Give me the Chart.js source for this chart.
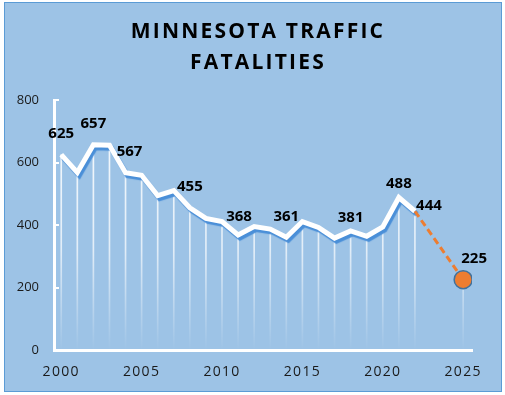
<!DOCTYPE html>
<html>
<head>
<meta charset="utf-8">
<script src="https://cdn.jsdelivr.net/npm/chart.js@4.4.1/dist/chart.umd.min.js"></script>
<style>
  html, body { margin: 0; padding: 0; background: #ffffff; }
  #wrap { width: 505px; height: 395px; position: relative; }
</style>
</head>
<body>
<div id="wrap"><canvas id="c" width="505" height="395"></canvas></div>
<script>
// ---- data ----
const titleLines = ['MINNESOTA TRAFFIC', 'FATALITIES'];
const years = [2000, 2001, 2002, 2003, 2004, 2005, 2006, 2007, 2008, 2009, 2010, 2011,
               2012, 2013, 2014, 2015, 2016, 2017, 2018, 2019, 2020, 2021, 2022];
const fatalities = [625, 568, 657, 655, 567, 559, 494, 510, 455, 421, 411, 368,
                    395, 387, 361, 411, 392, 358, 381, 364, 394, 488, 444];
const goalYears = [2022, 2025];
const goalValues = [444, 225];
const labelledYears = [2000, 2002, 2004, 2008, 2011, 2014, 2018, 2021, 2022, 2025];
const xTickLabels = [2000, 2005, 2010, 2015, 2020, 2025];
const yTickLabels = [0, 200, 400, 600, 800];

// ---- derived ----
const linePoints = years.map((y, i) => ({ x: y, y: fatalities[i] }));
const goalPoints = goalYears.map((y, i) => ({ x: y, y: goalValues[i] }));
const dropPoints = linePoints.concat([goalPoints[goalPoints.length - 1]]);
const allValues = {};
years.forEach((y, i) => { allValues[y] = fatalities[i]; });
goalYears.forEach((y, i) => { if (!(y in allValues)) allValues[y] = goalValues[i]; });

// label placement styling (pixel offsets relative to the point)
const labelOffsets = {
  2000: [0, -21], 2002: [0, -21], 2004: [4, -21], 2008: [0, -21], 2011: [1, -18],
  2014: [0, -20], 2018: [0, -13], 2021: [0, -14], 2022: [14, -6], 2025: [11, -21]
};

const bgPlugin = {
  id: 'bg',
  beforeDraw(chart) {
    const ctx = chart.ctx;
    ctx.save();
    ctx.fillStyle = '#ffffff';
    ctx.fillRect(0, 0, chart.width, chart.height);
    ctx.fillStyle = '#9DC3E6';
    ctx.fillRect(4, 2, 498, 390);
    ctx.strokeStyle = '#5B9BD5';
    ctx.lineWidth = 1;
    ctx.strokeRect(4.5, 2.5, 497, 389);
    ctx.restore();
  }
};

const titlePlugin = {
  id: 'customTitle',
  afterDraw(chart) {
    const ctx = chart.ctx;
    ctx.save();
    ctx.letterSpacing = '2.2px';
    ctx.font = 'bold 21px "Open Sans"';
    ctx.fillStyle = '#000000';
    ctx.textAlign = 'center';
    ctx.textBaseline = 'middle';
    ctx.fillText(titleLines[0], 258, 32);
    ctx.fillText(titleLines[1], 258, 63);
    ctx.restore();
  }
};

const shadowPlugin = {
  id: 'lineShadow',
  beforeDatasetDraw(chart, args) {
    if (args.index === 1) {
      const ctx = chart.ctx;
      ctx.save();
      ctx.shadowColor = '#4A8FD8';
      ctx.shadowOffsetX = 2;
      ctx.shadowOffsetY = 3;
      ctx.shadowBlur = 1;
    }
  },
  afterDatasetDraw(chart, args) {
    if (args.index === 1) chart.ctx.restore();
  }
};

const tickMarkPlugin = {
  id: 'innerTicks',
  afterDatasetsDraw(chart) {
    const ctx = chart.ctx;
    const ys = chart.scales.y;
    ctx.save();
    ctx.strokeStyle = '#ffffff';
    ctx.lineWidth = 2;
    yTickLabels.forEach(v => {
      if (v === 0) return;
      const py = Math.round(ys.getPixelForValue(v));
      ctx.beginPath();
      ctx.moveTo(ys.right, py);
      ctx.lineTo(ys.right + 5, py);
      ctx.stroke();
    });
    ctx.restore();
  }
};

const labelPlugin = {
  id: 'valueLabels',
  afterDatasetsDraw(chart) {
    const ctx = chart.ctx;
    const xs = chart.scales.x, ys = chart.scales.y;
    ctx.save();
    ctx.font = 'bold 15px "Open Sans"';
    ctx.fillStyle = '#000000';
    ctx.textAlign = 'center';
    ctx.textBaseline = 'middle';
    labelledYears.forEach(yr => {
      const v = allValues[yr];
      const off = labelOffsets[yr] || [0, -20];
      ctx.fillText(String(v), xs.getPixelForValue(yr) + off[0], ys.getPixelForValue(v) + off[1]);
    });
    ctx.restore();
  }
};

function spacedLabels(scale, spacing) {
  if (scale._spacedWrap) return;
  const orig = scale.drawLabels;
  scale.drawLabels = function (area) {
    const c = this.ctx;
    c.save();
    c.letterSpacing = spacing;
    orig.call(this, area);
    c.restore();
  };
  scale._spacedWrap = true;
}

const ctx = document.getElementById('c').getContext('2d');
new Chart(ctx, {
  type: 'line',
  data: {
    datasets: [
      {
        type: 'bar',
        data: dropPoints,
        barThickness: 1,
        backgroundColor: (c) => {
          const area = c.chart.chartArea;
          if (!area) return 'rgba(255,255,255,0.8)';
          const g = c.chart.ctx.createLinearGradient(0, area.top, 0, area.bottom);
          g.addColorStop(0, 'rgba(255,255,255,0.95)');
          g.addColorStop(0.6, 'rgba(255,255,255,0.7)');
          g.addColorStop(1, 'rgba(255,255,255,0)');
          return g;
        },
        borderWidth: 0,
        order: 3
      },
      {
        data: linePoints,
        borderColor: '#ffffff',
        borderWidth: 5,
        borderJoinStyle: 'miter',
        borderCapStyle: 'butt',
        pointRadius: 0,
        tension: 0,
        fill: false,
        order: 2
      },
      {
        data: goalPoints,
        borderColor: '#ED7D31',
        borderWidth: 3,
        borderDash: [7, 4],
        pointRadius: [0, 9],
        pointBackgroundColor: '#ED7D31',
        pointBorderColor: '#41719C',
        pointBorderWidth: 1.5,
        fill: false,
        order: 1
      }
    ]
  },
  options: {
    responsive: false,
    animation: false,
    devicePixelRatio: 1,
    layout: { padding: { left: 10, right: 33, top: 100, bottom: 0 } },
    plugins: { legend: { display: false }, tooltip: { enabled: false }, title: { display: false } },
    scales: {
      x: {
        type: 'linear',
        offset: false,
        min: 1999.55,
        max: 2025.55,
        afterBuildTicks: (s) => { s.ticks = xTickLabels.map(v => ({ value: v })); },
        afterFit: (s) => { s.height = 45; spacedLabels(s, '1.3px'); },
        grid: { display: false, drawTicks: false },
        border: { display: true, color: '#ffffff', width: 3 },
        ticks: {
          color: '#1a1a1a',
          font: { family: 'Open Sans', size: 14 },
          padding: 14,
          maxRotation: 0,
          autoSkip: false,
          callback: (v) => String(v)
        }
      },
      y: {
        min: 0,
        max: 800,
        afterBuildTicks: (s) => { s.ticks = yTickLabels.map(v => ({ value: v })); },
        afterFit: (s) => { s.width = 44; },
        grid: { display: false, drawTicks: false },
        border: { display: true, color: '#ffffff', width: 3 },
        ticks: {
          color: '#1a1a1a',
          font: { family: 'Open Sans', size: 13 },
          padding: 15,
          callback: (v) => String(v)
        }
      }
    }
  },
  plugins: [bgPlugin, shadowPlugin, tickMarkPlugin, labelPlugin, titlePlugin]
});
</script>
</body>
</html>
